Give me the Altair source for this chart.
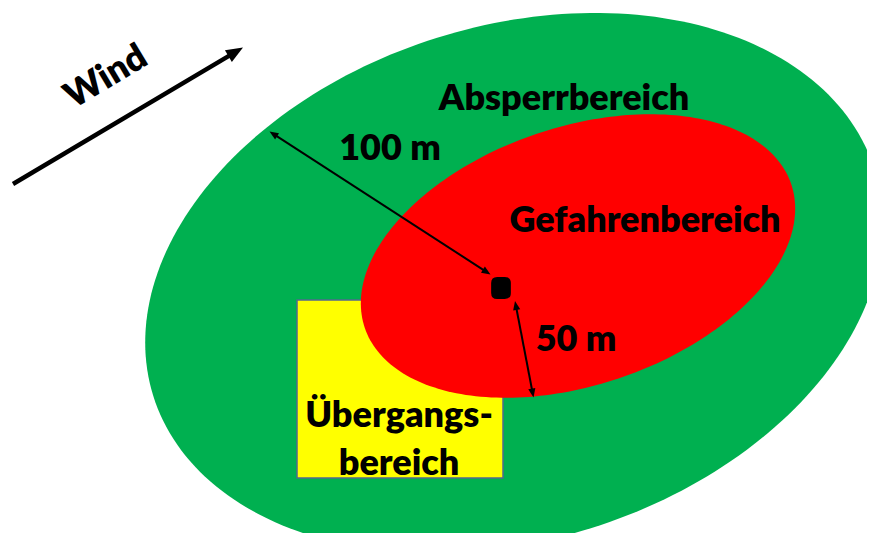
import math
import altair as alt
import numpy as np
import pandas as pd

# ---------------- data (page pixel coordinates) ----------------
zone_names = ["Absperrbereich", "Gefahrenbereich"]
zone_cx = [514, 578]
zone_cy = [283, 256]
zone_a = [378, 225]          # semi-major axis
zone_b = [257, 129]          # semi-minor axis
zone_tilt = [17.4, 18.6]     # degrees, major axis tilted up to the right
zone_colors = ["#00B050", "#FF0000"]

box_name = ["Übergangsbereich"]
box_x = [297]
box_x2 = [503]
box_y = [300]
box_y2 = [478]

dot_x = [501]
dot_y = [288]

arrow_names = ["Wind", "100 m", "50 m"]
arrow_x1 = [13, 269.5, 515]
arrow_y1 = [184, 131.5, 301]
arrow_x2 = [243, 490.5, 533.5]
arrow_y2 = [47.5, 274.5, 397.5]
arrow_both = [False, True, True]

label_text = ["Absperrbereich", "Gefahrenbereich", "100 m", "50 m", "Übergangs-", "bereich"]
label_x = [564, 645, 390, 576, 399, 399]
label_y = [110, 232, 160, 351, 427, 475]

wind_text = ["Wind"]
wind_x = [106]
wind_y = [77]
wind_angle = [329]

# ---------------- geometry tables ----------------
def ellipse_df(i, n=240):
    t = np.linspace(0, 2 * np.pi, n + 1)
    th = math.radians(zone_tilt[i])
    u = zone_a[i] * np.cos(t)
    v = zone_b[i] * np.sin(t)
    x = zone_cx[i] + u * math.cos(th) - v * math.sin(th)
    y = zone_cy[i] - (u * math.sin(th) + v * math.cos(th))
    return pd.DataFrame({"x": x, "y": y, "i": np.arange(n + 1), "zone": zone_names[i]})

green_df = ellipse_df(0)
red_df = ellipse_df(1)

box_df = pd.DataFrame({"name": box_name, "x": box_x, "x2": box_x2, "y": box_y, "y2": box_y2})
dot_df = pd.DataFrame({"x": dot_x, "y": dot_y})

HEAD_THIN = 9.0
HEAD_WIND = 17.0

line_rows, head_rows = [], []
for k in range(len(arrow_names)):
    x1, y1, x2, y2 = arrow_x1[k], arrow_y1[k], arrow_x2[k], arrow_y2[k]
    L = math.hypot(x2 - x1, y2 - y1)
    ux, uy = (x2 - x1) / L, (y2 - y1) / L
    hl = HEAD_WIND if arrow_names[k] == "Wind" else HEAD_THIN
    back = 0.7 * hl
    sx, sy = x1, y1
    if arrow_both[k]:
        sx, sy = x1 + ux * back, y1 + uy * back
        ang = (math.degrees(math.atan2(-ux, uy)) + 360) % 360
        head_rows.append({"name": arrow_names[k], "x": x1, "y": y1, "ang": ang})
    ex, ey = x2 - ux * back, y2 - uy * back
    ang = (math.degrees(math.atan2(ux, -uy)) + 360) % 360
    head_rows.append({"name": arrow_names[k], "x": x2, "y": y2, "ang": ang})
    line_rows.append({"name": arrow_names[k], "x": sx, "y": sy, "x2": ex, "y2": ey})

line_df = pd.DataFrame(line_rows)
head_df = pd.DataFrame(head_rows)
label_df = pd.DataFrame({"t": label_text, "x": label_x, "y": label_y})
wind_df = pd.DataFrame({"t": wind_text, "x": wind_x, "y": wind_y, "ang": wind_angle})

# ---------------- scales: one data unit = one page pixel ----------------
W, H = 859, 525
xs = alt.Scale(domain=[8, 8 + W], nice=False, zero=False)
ys = alt.Scale(domain=[8, 8 + H], nice=False, zero=False, reverse=True)
X = lambda f="x": alt.X(f"{f}:Q", scale=xs, axis=None)
Y = lambda f="y": alt.Y(f"{f}:Q", scale=ys, axis=None)

HEAD_PATH = "M0,0L0.6,1.5L-0.6,1.5Z"
DOT_PATH = ("M-0.35,-1L0.35,-1Q0.9,-1,0.9,-0.45L0.9,0.45Q0.9,1,0.35,1L-0.35,1"
            "Q-0.9,1,-0.9,0.45L-0.9,-0.45Q-0.9,-1,-0.35,-1Z")

FONT = "Lato"
FW = 800
FS = 36

green = alt.Chart(green_df).mark_line(filled=True, color=zone_colors[0], strokeWidth=0).encode(
    x=X(), y=Y(), order=alt.Order("i:Q"))
red = alt.Chart(red_df).mark_line(filled=True, color=zone_colors[1], strokeWidth=0).encode(
    x=X(), y=Y(), order=alt.Order("i:Q"))
box = alt.Chart(box_df).mark_rect(color="#FFFF00", stroke="#50698E", strokeWidth=1.5).encode(
    x=X(), x2=alt.X2("x2:Q"), y=Y(), y2=alt.Y2("y2:Q"))

wind_line = alt.Chart(line_df[line_df.name == "Wind"]).mark_rule(color="black", strokeWidth=4.5).encode(
    x=X(), y=Y(), x2=alt.X2("x2:Q"), y2=alt.Y2("y2:Q"))
thin_lines = alt.Chart(line_df[line_df.name != "Wind"]).mark_rule(color="black", strokeWidth=2).encode(
    x=X(), y=Y(), x2=alt.X2("x2:Q"), y2=alt.Y2("y2:Q"))

wind_head = alt.Chart(head_df[head_df.name == "Wind"]).mark_point(
    shape=HEAD_PATH, filled=True, color="black", opacity=1, size=(2 * HEAD_WIND / 1.5) ** 2).encode(
    x=X(), y=Y(), angle=alt.Angle("ang:Q", scale=None))
thin_heads = alt.Chart(head_df[head_df.name != "Wind"]).mark_point(
    shape=HEAD_PATH, filled=True, color="black", opacity=1, size=(2 * HEAD_THIN / 1.5) ** 2).encode(
    x=X(), y=Y(), angle=alt.Angle("ang:Q", scale=None))

dot = alt.Chart(dot_df).mark_point(shape=DOT_PATH, filled=True, color="black", opacity=1, size=480).encode(
    x=X(), y=Y())

labels = alt.Chart(label_df).mark_text(font=FONT, fontWeight=FW, fontSize=FS, color="black",
                                       align="center", baseline="alphabetic").encode(
    x=X(), y=Y(), text="t:N")
wind_label = alt.Chart(wind_df).mark_text(font=FONT, fontWeight=FW, fontSize=FS, color="black",
                                          align="center", baseline="middle").encode(
    x=X(), y=Y(), text="t:N", angle=alt.Angle("ang:Q", scale=None))

chart = alt.layer(green, box, red, wind_line, thin_lines, wind_head, thin_heads, dot, labels, wind_label).properties(
    width=W, height=H, padding=0, autosize=alt.AutoSizeParams(type="none"), background="white"
).configure_view(stroke=None)

chart.save("out.html", embed_options={"renderer": "svg", "actions": False})
